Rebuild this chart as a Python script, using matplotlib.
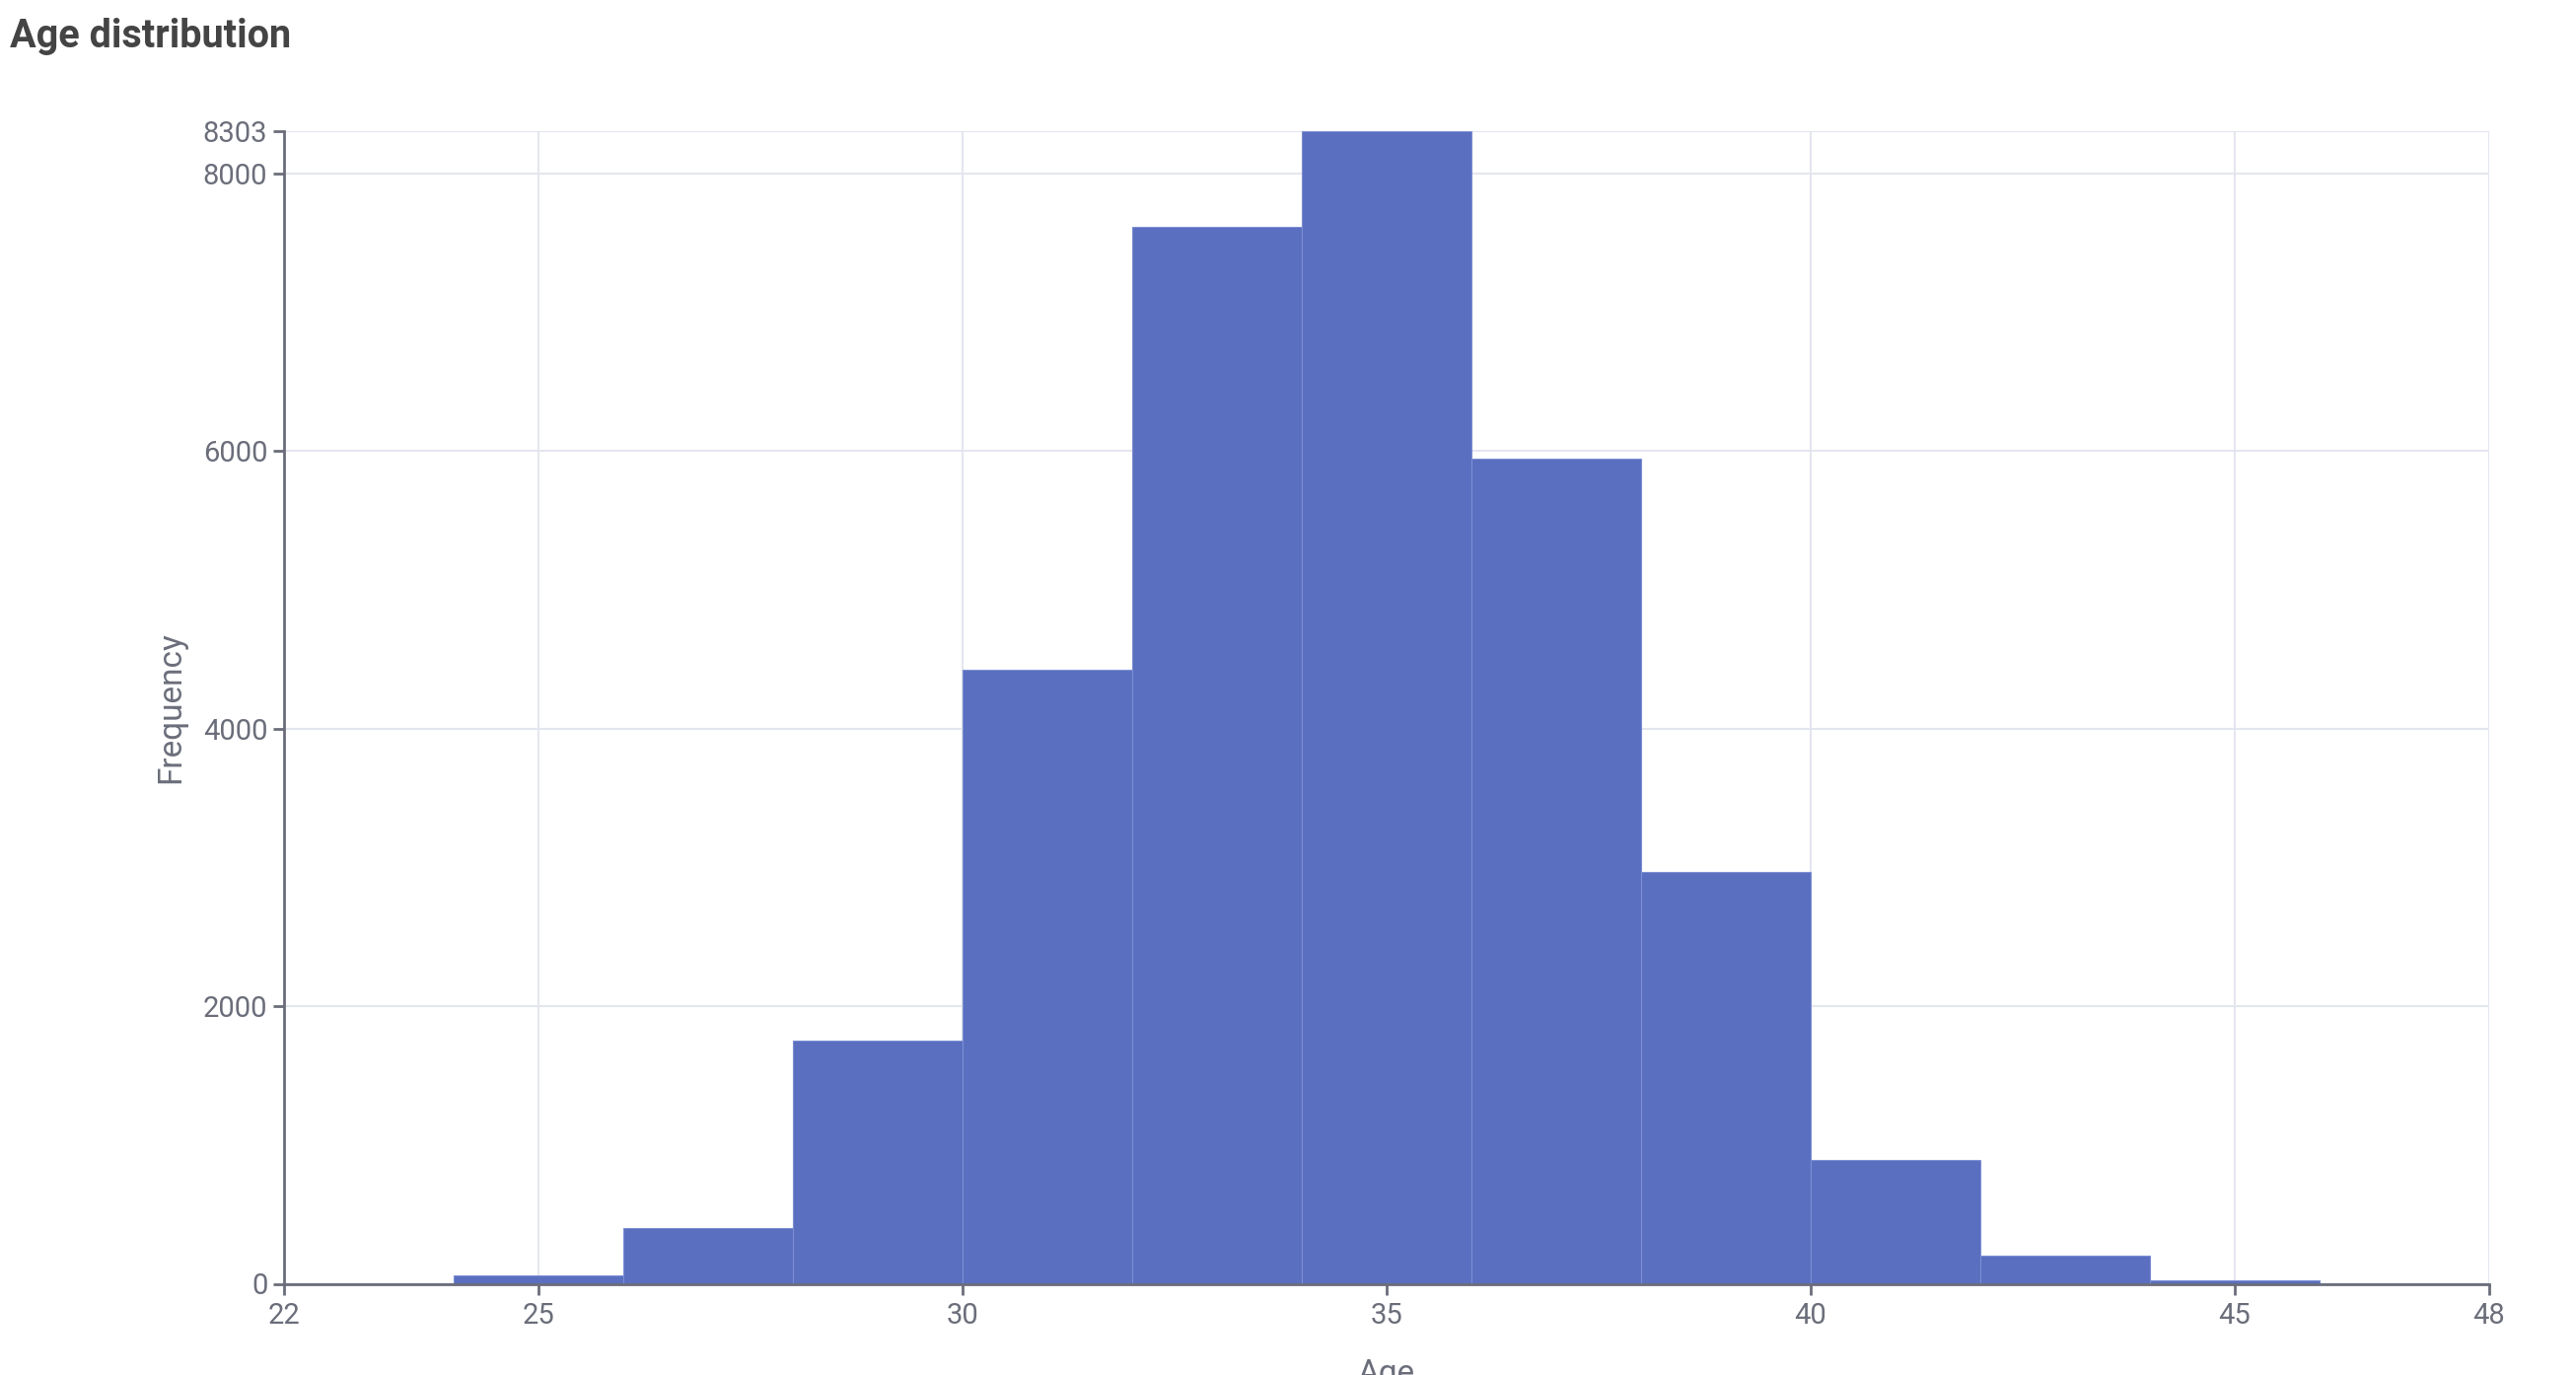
import matplotlib
matplotlib.use("Agg")
import matplotlib.pyplot as plt
import numpy as np

bin_edges = [22, 24, 26, 28, 30, 32, 34, 36, 38, 40, 42, 44, 46, 48]
counts = [2, 60, 405, 1755, 4425, 7611, 8303, 5946, 2966, 895, 202, 24, 2]
x_ticks = [22, 25, 30, 35, 40, 45, 48]
y_ticks = [0, 2000, 4000, 6000, 8000, 8303]

plt.rcParams['font.family'] = ['Roboto', 'DejaVu Sans']

W, H, DPI = 2612, 1394, 100
fig = plt.figure(figsize=(W / DPI, H / DPI), dpi=DPI)
left, right, top, bottom = 288, 2524, 133, 1301.5
ax = fig.add_axes([left / W, 1 - bottom / H, (right - left) / W, (bottom - top) / H])

axis_col = '#6b6e7a'
grid_col = '#e4e6ef'
bar_col = '#5a6fbf'
edge_col = '#7d8ed3'

lefts = np.array(bin_edges[:-1])
widths = np.diff(bin_edges)
ax.bar(lefts, counts, width=widths, align='edge', color=bar_col,
       edgecolor=edge_col, linewidth=0.8, zorder=2)

ax.set_xlim(bin_edges[0], bin_edges[-1])
ax.set_ylim(0, max(counts))
ax.set_xticks(x_ticks)
ax.set_yticks(y_ticks)
ax.grid(True, color=grid_col, linewidth=1.5, zorder=0)
ax.set_axisbelow(True)

for s in ['top', 'right']:
    ax.spines[s].set_visible(False)
for s in ['left', 'bottom']:
    ax.spines[s].set_color(axis_col)
    ax.spines[s].set_linewidth(2)
    ax.spines[s].set_zorder(3)

ax.tick_params(axis='both', colors=axis_col, labelcolor=axis_col, labelsize=21,
               length=8, width=2)
ax.tick_params(axis='y', pad=4)
ax.tick_params(axis='x', pad=5)

ax.set_ylabel('Frequency', fontsize=24, color=axis_col)
ax.yaxis.set_label_coords(-0.0514, 0.5)
ax.yaxis.label.set_va('center')
ax.set_xlabel('Age', fontsize=24, color=axis_col)
ax.xaxis.set_label_coords(0.5, -0.078)
ax.xaxis.label.set_va('center')

fig.text(10 / W, 1 - 37 / H, 'Age distribution', fontsize=28.5, fontweight='bold',
         color='#444444', ha='left', va='center')

fig.savefig('out.png', dpi=DPI)
